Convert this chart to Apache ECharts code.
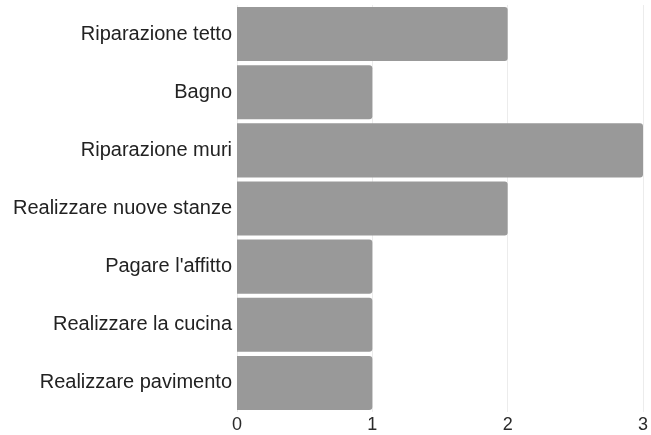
<!DOCTYPE html>
<html>
<head>
<meta charset="utf-8">
<script src="https://cdn.jsdelivr.net/npm/echarts@6/dist/echarts.min.js"></script>
<style>
  html, body { margin: 0; padding: 0; background: #fff; }
  #chart { width: 651px; height: 435px; }
</style>
</head>
<body>
<div id="chart"></div>
<script>
// Interventi richiesti (dall'alto verso il basso)
const categories = [
  'Riparazione tetto',
  'Bagno',
  'Riparazione muri',
  'Realizzare nuove stanze',
  "Pagare l'affitto",
  'Realizzare la cucina',
  'Realizzare pavimento'
];
const counts = [2, 1, 3, 2, 1, 1, 1];
const xTicks = [0, 1, 2, 3];

const chart = echarts.init(document.getElementById('chart'), null, { renderer: 'canvas' });

chart.setOption({
  animation: false,
  grid: { left: 237, right: 8, top: 5, bottom: 23, containLabel: false },
  xAxis: {
    type: 'value',
    min: xTicks[0],
    max: xTicks[xTicks.length - 1],
    interval: 1,
    axisLine: { show: false },
    axisTick: { show: false },
    splitLine: { show: true, lineStyle: { color: '#ececec', width: 1 } },
    axisLabel: {
      color: '#2a2a2a',
      fontFamily: 'Liberation Sans, Arial, sans-serif',
      fontSize: 18,
      margin: 4
    }
  },
  yAxis: {
    type: 'category',
    data: categories,
    inverse: true,
    axisLine: { show: false },
    axisTick: { show: false },
    splitLine: { show: false },
    axisLabel: {
      color: '#222',
      fontFamily: 'Liberation Sans, Arial, sans-serif',
      fontSize: 20,
      margin: 5
    }
  },
  series: [{
    type: 'bar',
    data: counts,
    barCategoryGap: '7%',
    itemStyle: { color: '#999999', borderRadius: [0, 3, 3, 0] }
  }]
});
</script>
</body>
</html>
